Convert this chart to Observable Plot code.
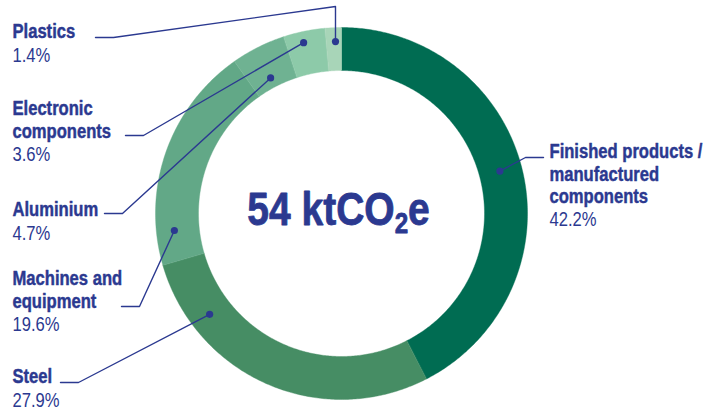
<!DOCTYPE html>
<html>
<head>
<meta charset="utf-8">
<script src="https://cdn.jsdelivr.net/npm/d3@7"></script>
<script src="https://cdn.jsdelivr.net/npm/@observablehq/plot@0.6"></script>
<style>
  html, body { margin: 0; padding: 0; background: #ffffff; }
  #chart { width: 720px; height: 411px; }
</style>
</head>
<body>
<div id="chart"></div>
<script>
// ---- data ----
const categories = ["Finished products", "Steel", "Machines and equipment", "Aluminium", "Electronic components", "Plastics"];
const labelLines = [
  ["Finished products /", "manufactured", "components"],
  ["Steel"],
  ["Machines and", "equipment"],
  ["Aluminium"],
  ["Electronic", "components"],
  ["Plastics"]
];
const values = [42.2, 27.9, 19.6, 4.7, 3.6, 1.4];
const percentLabels = ["42.2%", "27.9%", "19.6%", "4.7%", "3.6%", "1.4%"];
const totalLabel = "54 ktCO2e";

// ---- styles / layout ----
const sliceColors = ["#006c52", "#468d64", "#62a887", "#6fb292", "#8dcaa9", "#a8d5b8"];
const navy = "#2b3990";
const fontFamily = "'Liberation Sans', Arial, sans-serif";
const sx = 0.83; // horizontal condensing of all text
const W = 720, H = 411;
const cx = 341, cy = 213, rOuter = 186, rInner = 143;
const fs = 20, lineStep = 22.3, pctStep = 23.5;
const centerFs = 47, centerX = 338, centerBaseline = 225;

// leader layout per category: dot (angle in degrees clockwise from top, radius), elbow, end, label anchor
const leaderLayout = [
  {dotA: 75,    dotR: 164, elbow: [525, 157], end: [543, 157], lx: 549, ly: 158},
  {dotA: 232.6, dotR: 166, elbow: [78, 382],  end: [60, 382],  lx: 12,  ly: 383},
  {dotA: 264.2, dotR: 168, elbow: [139, 306], end: [121, 306], lx: 12,  ly: 285},
  {dotA: 332.4, dotR: 153, elbow: [122, 213], end: [104, 213], lx: 12,  ly: 216},
  {dotA: 347.5, dotR: 175, elbow: [143, 135], end: [125, 135], lx: 12,  ly: 115},
  {dotA: 358,   dotR: 172, elbow: [335, 6],   end: [113, 37], end2: [95, 37], lx: 12, ly: 38}
];

// ---- derived geometry ----
const pie = d3.pie().sort(null).value(d => d)(values);
const slicePts = [];
pie.forEach((p, i) => {
  const n = Math.max(4, Math.ceil((p.endAngle - p.startAngle) / 0.01));
  for (let k = 0; k <= n; k++) {
    const a = p.startAngle + (p.endAngle - p.startAngle) * k / n;
    slicePts.push({cat: categories[i], x: cx + rOuter * Math.sin(a), y: cy - rOuter * Math.cos(a)});
  }
  for (let k = n; k >= 0; k--) {
    const a = p.startAngle + (p.endAngle - p.startAngle) * k / n;
    slicePts.push({cat: categories[i], x: cx + rInner * Math.sin(a), y: cy - rInner * Math.cos(a)});
  }
});

const dots = [];
const leaderPts = [];
leaderLayout.forEach((L, i) => {
  const a = L.dotA * Math.PI / 180;
  const d = {cat: categories[i], x: cx + L.dotR * Math.sin(a), y: cy - L.dotR * Math.cos(a)};
  dots.push(d);
  leaderPts.push({cat: categories[i], x: d.x, y: d.y});
  leaderPts.push({cat: categories[i], x: L.elbow[0], y: L.elbow[1]});
  leaderPts.push({cat: categories[i], x: L.end[0], y: L.end[1]});
  if (L.end2) leaderPts.push({cat: categories[i], x: L.end2[0], y: L.end2[1]});
});

// text x positions are pre-divided by sx because the text groups are scaled horizontally
const nameRows = [], pctRows = [];
leaderLayout.forEach((L, i) => {
  labelLines[i].forEach((t, j) => nameRows.push({text: t, x: L.lx / sx, y: L.ly + j * lineStep}));
  pctRows.push({text: percentLabels[i], x: L.lx / sx, y: L.ly + (labelLines[i].length - 1) * lineStep + pctStep});
});

const chart = Plot.plot({
  width: W, height: H,
  marginTop: 0, marginRight: 0, marginBottom: 0, marginLeft: 0,
  x: {domain: [0, W], range: [0, W], axis: null},
  y: {domain: [0, H], range: [0, H], axis: null},
  color: {domain: categories, range: sliceColors},
  style: {background: "#ffffff", fontFamily: fontFamily},
  marks: [
    Plot.line(slicePts, {x: "x", y: "y", z: "cat", fill: "cat", stroke: "cat", strokeWidth: 0.4, curve: "linear-closed"}),
    Plot.line(leaderPts, {x: "x", y: "y", z: "cat", stroke: navy, strokeWidth: 1.4}),
    Plot.dot(dots, {x: "x", y: "y", r: 3.6, fill: navy, stroke: null}),
    Plot.text(nameRows, {x: "x", y: "y", text: "text", textAnchor: "start", lineAnchor: "top", dy: -0.716 * fs,
      fontSize: fs, fontWeight: "bold", fill: navy, stroke: navy, strokeWidth: 0.45}),
    Plot.text(pctRows, {x: "x", y: "y", text: "text", textAnchor: "start", lineAnchor: "top", dy: -0.716 * fs,
      fontSize: fs, fontWeight: "normal", fill: navy}),
    Plot.text([totalLabel], {x: () => centerX / sx, y: () => centerBaseline, text: d => d, textAnchor: "middle", lineAnchor: "top",
      dy: -0.716 * centerFs, fontSize: centerFs, fontWeight: "bold", fill: navy, stroke: navy, strokeWidth: 0.8})
  ]
});

// condense all texts horizontally (the reference uses a condensed face)
chart.querySelectorAll('g[aria-label="text"]').forEach(g => {
  g.setAttribute("transform", ((g.getAttribute("transform") || "") + ` scale(${sx},1)`).trim());
});

// subscript the "2" in CO2
const subShift = 8;
chart.querySelectorAll("text").forEach(el => {
  if (el.textContent === totalLabel) {
    el.textContent = "";
    el.appendChild(document.createTextNode("54 ktCO"));
    const sub = document.createElementNS("http://www.w3.org/2000/svg", "tspan");
    sub.setAttribute("font-size", "0.62em");
    sub.setAttribute("dy", String(subShift));
    sub.textContent = "2";
    el.appendChild(sub);
    const e = document.createElementNS("http://www.w3.org/2000/svg", "tspan");
    e.setAttribute("dy", String(-subShift));
    e.textContent = "e";
    el.appendChild(e);
  }
});

document.getElementById("chart").appendChild(chart);
</script>
</body>
</html>
